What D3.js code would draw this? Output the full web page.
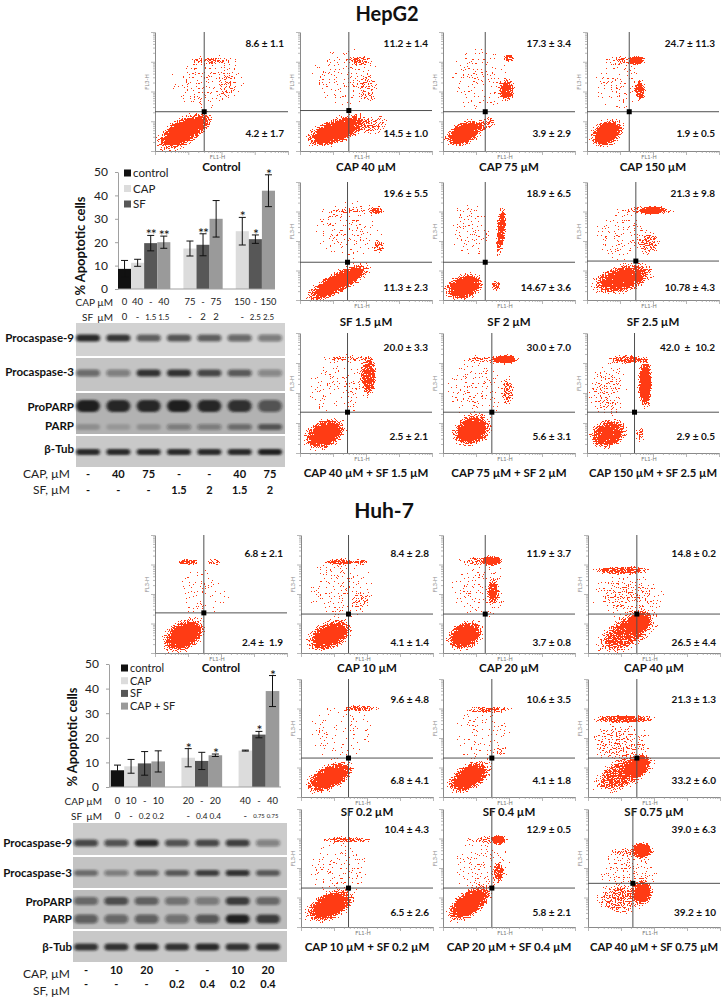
<!DOCTYPE html>
<html><head><meta charset="utf-8">
<script src="https://cdn.jsdelivr.net/npm/d3@7/dist/d3.min.js"></script>
<style>
body{margin:0;background:#fff}
svg{display:block}
text{font-family:Lato,"Open Sans",sans-serif;white-space:pre}
</style></head>
<body><svg id="c" width="721" height="997"></svg>
<script>
// ================= DATA =================
const barSeries = ["control", "CAP", "SF", "CAP + SF"];

// HepG2 bar chart (groups x series); null = no bar
const hepGroups = ["g40", "g75", "g150"];
const hepMeans  = [[8.6, 11.2, 19.6, 20.0], [null, 17.3, 18.9, 30.0], [null, 24.7, 21.3, 42.0]];
const hepErrors = [[3.6, 1.5, 3.3, 2.6], [null, 3.2, 4.7, 7.8], [null, 5.9, 1.8, 6.8]];
const hepStars  = [["", "", "**", "**"], ["", "", "**", ""], ["", "*", "*", "*"]];
const hepCapTicks = [["0", "40", "-", "40"], [null, "75", "-", "75"], [null, "150", "-", "150"]];
const hepSfTicks  = [["0", "-", "1.5", "1.5"], [null, "-", "2", "2"], [null, "-", "2.5", "2.5"]];
const hepLegend = ["control", "CAP", "SF"];

// Huh-7 bar chart
const huhGroups = ["g10", "g20", "g40"];
const huhMeans  = [[6.8, 8.4, 9.6, 10.4], [null, 11.9, 10.6, 12.9], [null, 14.8, 21.3, 39.0]];
const huhErrors = [[2.1, 2.8, 4.8, 4.3], [null, 3.7, 3.5, 0.5], [null, 0.2, 1.3, 6.3]];
const huhStars  = [["", "", "", ""], ["", "*", "", "*"], ["", "", "*", "*"]];
const huhCapTicks = [["0", "10", "-", "10"], [null, "20", "-", "20"], [null, "40", "-", "40"]];
const huhSfTicks  = [["0", "-", "0.2", "0.2"], [null, "-", "0.4", "0.4"], [null, "-", "0.75", "0.75"]];
const huhLegend = ["control", "CAP", "SF", "CAP + SF"];

const yTicks = [0, 10, 20, 30, 40, 50];

// Western blots: band intensities per lane (0..1)
const blotProteins = ["Procaspase-9", "Procaspase-3", "ProPARP", "PARP", "β-Tub"];
const hepLaneCap = ["-", "40", "75", "-", "-", "40", "75"];
const hepLaneSf  = ["-", "-", "-", "1.5", "2", "1.5", "2"];
const hepCasp9   = [0.9, 0.8, 0.6, 0.65, 0.6, 0.55, 0.45];
const hepCasp3   = [0.5, 0.4, 0.85, 0.85, 0.7, 0.6, 0.35];
const hepProParp = [0.95, 0.9, 0.9, 0.95, 0.9, 0.85, 0.6];
const hepParp    = [0.2, 0.15, 0.2, 0.35, 0.35, 0.45, 0.6];
const hepTub     = [0.9, 0.9, 0.9, 0.9, 0.9, 0.9, 0.95];

const huhLaneCap = ["-", "10", "20", "-", "-", "10", "20"];
const huhLaneSf  = ["-", "-", "-", "0.2", "0.4", "0.2", "0.4"];
const huhCasp9   = [0.7, 0.65, 0.9, 0.65, 0.7, 0.75, 0.4];
const huhCasp3   = [0.5, 0.4, 0.55, 0.6, 0.75, 0.85, 0.6];
const huhProParp = [0.5, 0.65, 0.55, 0.45, 0.4, 0.75, 0.5];
const huhParp    = [0.55, 0.5, 0.55, 0.45, 0.6, 0.95, 0.75];
const huhTub     = [0.8, 0.85, 0.9, 0.85, 0.9, 0.85, 0.85];

// Flow cytometry dot plots (Annexin V FL1-H vs PI FL3-H)
const hepFlowTitles = ["Control", "CAP 40 µM", "CAP 75 µM", "CAP 150 µM", "SF 1.5 µM", "SF 2 µM", "SF 2.5 µM",
  "CAP 40 µM + SF 1.5 µM", "CAP 75 µM + SF 2 µM", "CAP 150 µM + SF 2.5 µM"];
const hepFlowUpper = ["8.6 ± 1.1", "11.2 ± 1.4", "17.3 ± 3.4", "24.7 ± 11.3", "19.6 ± 5.5", "18.9 ± 6.5", "21.3 ± 9.8",
  "20.0 ± 3.3", "30.0 ± 7.0", "42.0  ±  10.2"];
const hepFlowLower = ["4.2 ± 1.7", "14.5 ± 1.0", "3.9 ± 2.9", "1.9 ± 0.5", "11.3 ± 2.3", "14.67 ± 3.6", "10.78 ± 4.3",
  "2.5 ± 2.1", "5.6 ± 3.1", "2.9 ± 0.5"];
// quadrant gate [FL1 %, FL3 %] of the plot frame
const hepGates = [[37, 33], [37, 34], [32, 33], [32, 33], [36, 32], [32, 32], [37, 33], [36, 34], [37, 34], [36, 34]];
// event populations: [centre x %, centre y %, radius x %, radius y %, tilt deg, density]
const hepClusters = [
  [[21, 16, 24, 13, 30, 1], [43, 76, 19, 3, 0, 0.45], [40, 58, 33, 28, 0, 0.16], [54, 55, 8, 16, 0, 0.22], [36, 25, 10, 8, 30, 0.5]],
  [[28, 17, 28, 12, 20, 1], [56, 22, 12, 8, 20, 0.45], [35, 62, 30, 28, 0, 0.18], [46, 76, 10, 4, 0, 0.45], [51, 52, 8, 15, 0, 0.3]],
  [[16, 15, 17, 11, 25, 1], [33, 23, 9, 6, 25, 0.55], [48, 51, 7, 11, 0, 0.8], [50, 78, 5, 3.5, 0, 0.7], [28, 60, 25, 32, 0, 0.16]],
  [[15, 15, 15, 12, 30, 1], [27, 76, 15, 4, 0, 0.4], [38, 76, 7, 4.5, 0, 1], [40, 51, 5, 10, 0, 0.8], [24, 56, 20, 25, 0, 0.18]],
  [[29, 15, 31, 10, 28, 1], [38, 60, 30, 30, 0, 0.17], [58, 76, 7, 4, 0, 0.7], [36, 76, 20, 2.5, 0, 0.3], [60, 45, 5, 7, 0, 0.5]],
  [[16, 11, 17, 12, 20, 1], [44, 59, 4, 23, -5, 0.85], [40, 12, 4, 5, 0, 0.7], [20, 60, 18, 28, 0, 0.16]],
  [[27, 18, 26, 13, 15, 0.95], [46, 76, 25, 4, 0, 0.45], [50, 76, 11, 4, 0, 1], [47, 48, 10, 10, 40, 0.45], [27, 55, 25, 25, 0, 0.18]],
  [[19, 16, 19, 13, 25, 1], [52, 64, 7, 19, 0, 0.8], [37, 79, 23, 3.5, 0, 0.4], [29, 55, 27, 27, 0, 0.17]],
  [[22, 19, 17, 14, 25, 1], [47, 78, 11, 4.5, 0, 1], [33, 78, 20, 4, 0, 0.4], [49, 52, 5, 14, 0, 0.5], [25, 52, 25, 30, 0, 0.18]],
  [[16, 16, 16, 13, 25, 0.95], [44, 58, 6, 24, 0, 1], [31, 78, 17, 4, 0, 0.7], [16, 52, 16, 25, 0, 0.28], [40, 16, 4, 8, 0, 0.4]]
];

const huhFlowTitles = ["Control", "CAP 10 µM", "CAP 20 µM", "CAP 40 µM", "SF 0.2 µM", "SF 0.4 µM", "SF 0.75 µM",
  "CAP 10 µM + SF 0.2 µM", "CAP 20 µM + SF 0.4 µM", "CAP 40 µM + SF 0.75 µM"];
const huhFlowUpper = ["6.8 ± 2.1", "8.4 ± 2.8", "11.9 ± 3.7", "14.8 ± 0.2", "9.6 ± 4.8", "10.6 ± 3.5", "21.3 ± 1.3",
  "10.4 ± 4.3", "12.9 ± 0.5", "39.0 ± 6.3"];
const huhFlowLower = ["2.4 ±  1.9", "4.1 ± 1.4", "3.7 ± 0.8", "26.5 ± 4.4", "6.8 ± 4.1", "4.1 ± 1.8", "33.2 ± 6.0",
  "6.5 ± 2.6", "5.8 ± 2.1", "39.2 ± 10"];
const huhGates = [[37, 34], [36, 33], [32, 33], [37, 33], [36, 33], [37, 33], [37, 33], [36, 33], [37, 33], [34, 37]];
const huhClusters = [
  [[22, 15, 20, 14, 30, 1], [25, 77, 10, 3, 0, 0.7], [45, 77, 6, 3, 0, 0.5], [35, 50, 25, 25, 0, 0.14]],
  [[22, 15, 20, 13, 25, 1], [30, 77, 14, 3, 0, 0.7], [46, 77, 6, 3, 0, 0.6], [30, 55, 30, 30, 0, 0.17], [45, 45, 8, 10, 0, 0.28]],
  [[17, 15, 16, 13, 25, 1], [37, 78, 9, 5, 0, 1], [25, 78, 15, 4, 0, 0.4], [38, 52, 5, 12, 0, 0.8], [28, 55, 25, 30, 0, 0.17]],
  [[30, 18, 28, 15, 30, 0.75], [38, 25, 12, 9, 40, 1], [25, 70, 25, 4, 0, 0.75], [30, 48, 30, 20, 0, 0.28]],
  [[22, 17, 22, 12, 25, 1], [45, 75, 18, 3, 0, 0.55], [30, 54, 28, 30, 0, 0.14]],
  [[20, 17, 20, 12, 30, 1], [35, 74, 19, 3, 0, 0.6], [30, 52, 25, 30, 0, 0.14], [44, 40, 5, 6, 0, 0.3]],
  [[27, 20, 27, 14, 25, 0.7], [38, 26, 12, 9, 35, 1], [27, 66, 27, 4, 0, 0.75], [25, 45, 25, 20, 0, 0.32]],
  [[22, 18, 22, 13, 25, 1], [35, 74, 21, 3, 0, 0.6], [30, 50, 28, 28, 0, 0.15]],
  [[20, 20, 22, 12, 35, 1], [42, 74, 6, 5, 0, 1], [35, 74, 18, 3.5, 0, 0.45], [42, 46, 5, 10, 0, 0.7], [30, 50, 25, 28, 0, 0.18]],
  [[41, 29, 9, 12, 0, 1], [24, 23, 20, 14, 0, 0.45], [41, 65, 9, 8, 0, 1], [31, 63, 18, 4, 0, 0.4], [30, 45, 25, 25, 0, 0.22]]
];

// ================= LAYOUT / STYLE =================
const barColors = ["#111111", "#dcdcdc", "#575757", "#9a9a9a"];
const dotColor = "#ff3b14";

const hepBoxes = [[155, 288, 32, 151], [300, 432, 32, 151], [443, 575, 32, 151], [587, 719, 32, 151],
  [300, 432, 182, 300], [443, 575, 182, 300], [587, 719, 182, 300],
  [300, 432, 333, 453], [443, 575, 333, 453], [587, 719, 333, 453]];
const hepRowOf = [0, 0, 0, 0, 1, 1, 1, 2, 2, 2];
const hepUpperY = [43, 193, 347], hepLowerY = [133, 287, 436], hepTitleY = [167, 322, 473];

const huhBoxes = [[155, 287, 535, 653], [301, 433, 535, 653], [443, 575, 535, 653], [588, 720, 535, 653],
  [301, 433, 679, 797], [443, 575, 679, 797], [588, 720, 679, 797],
  [301, 433, 809, 927], [443, 575, 809, 927], [588, 720, 809, 927]];
const huhRowOf = hepRowOf;
const huhUpperY = [553, 699, 829], huhLowerY = [642, 780, 912], huhTitleY = [668, 812, 947];

// ================= DRAWING =================
const svg = d3.select("#c");
const defs = svg.append("defs");

// speckle texture for the dot-plot event clouds
const f = defs.append("filter").attr("id", "speckle").attr("color-interpolation-filters", "sRGB")
  .attr("x", "-5%").attr("y", "-5%").attr("width", "110%").attr("height", "110%");
f.append("feTurbulence").attr("type", "fractalNoise").attr("baseFrequency", "0.73 0.79").attr("numOctaves", "3").attr("seed", "11").attr("result", "t");
f.append("feColorMatrix").attr("in", "t").attr("type", "matrix")
  .attr("values", "0 0 0 0 0  0 0 0 0 0  0 0 0 0 0  2.0 0 0 0 -0.5").attr("result", "n");
f.append("feComposite").attr("in", "SourceAlpha").attr("in2", "n").attr("operator", "arithmetic")
  .attr("k1", 0).attr("k2", 1.15).attr("k3", -1).attr("k4", 0.45).attr("result", "d");
f.append("feComponentTransfer").attr("in", "d").attr("result", "m")
  .append("feFuncA").attr("type", "discrete").attr("tableValues", "0 1");
f.append("feFlood").attr("flood-color", dotColor).attr("result", "c");
f.append("feComposite").attr("in", "c").attr("in2", "m").attr("operator", "in");

const rg = defs.append("radialGradient").attr("id", "blob");
rg.append("stop").attr("offset", "0").attr("stop-color", "#000").attr("stop-opacity", 1);
rg.append("stop").attr("offset", "0.55").attr("stop-color", "#000").attr("stop-opacity", 0.9);
rg.append("stop").attr("offset", "1").attr("stop-color", "#000").attr("stop-opacity", 0);

defs.append("filter").attr("id", "bandblur").attr("x", "-30%").attr("y", "-80%").attr("width", "160%").attr("height", "260%")
  .append("feGaussianBlur").attr("stdDeviation", "1.6 1.2");

function fitText(sel, maxW) {
  sel.each(function () {
    const w = this.getComputedTextLength();
    if (w > maxW) d3.select(this).attr("textLength", maxW).attr("lengthAdjust", "spacingAndGlyphs");
  });
}
function fitFont(sel, maxW, fs) {
  sel.each(function () {
    const w = this.getComputedTextLength();
    if (w > maxW) d3.select(this).attr("font-size", (fs * maxW / w).toFixed(2));
  });
}

function drawFlow(id, box, title, upper, lower, gate, clusters, upY, loY, tY) {
  const [l, r, t, b] = box;
  const x = d3.scaleLinear([0, 100], [l, r]);
  const y = d3.scaleLinear([0, 100], [b, t]);
  defs.append("clipPath").attr("id", "clip" + id).append("rect")
    .attr("x", l).attr("y", t).attr("width", r - l).attr("height", b - t);
  const g = svg.append("g");
  const dots = g.append("g").attr("clip-path", `url(#clip${id})`).append("g").attr("filter", "url(#speckle)");
  dots.selectAll("ellipse").data(clusters).join("ellipse")
    .attr("cx", 0).attr("cy", 0)
    .attr("rx", d => x(d[2]) - x(0)).attr("ry", d => y(0) - y(d[3]))
    .attr("transform", d => `translate(${x(d[0])},${y(d[1])}) rotate(${-d[4]})`)
    .attr("fill", "url(#blob)").attr("opacity", d => d[5]);

  // log axes
  const lx = d3.scaleLog([1, 1e4], [l, r]);
  const ly = d3.scaleLog([1, 1e4], [b, t]);
  const ax = g.append("g").attr("transform", `translate(0,${b})`)
    .call(d3.axisBottom(lx).tickSize(2).tickSizeOuter(0).tickFormat(""));
  const ay = g.append("g").attr("transform", `translate(${l},0)`)
    .call(d3.axisLeft(ly).tickSize(2).tickSizeOuter(0).tickFormat(""));
  [ax, ay].forEach(a => {
    a.select(".domain").attr("stroke", "#8a8a8a");
    a.selectAll(".tick line").attr("stroke", "#9a9a9a").attr("stroke-width", 0.7);
  });
  ax.selectAll(".tick line").filter(v => Math.log10(v) % 1 === 0).attr("y2", 4);
  ay.selectAll(".tick line").filter(v => Math.log10(v) % 1 === 0).attr("x2", -4);

  // quadrant gates
  g.append("line").attr("x1", x(gate[0])).attr("x2", x(gate[0])).attr("y1", t).attr("y2", b)
    .attr("stroke", "#505050").attr("stroke-width", 1);
  g.append("line").attr("x1", l).attr("x2", r).attr("y1", y(gate[1])).attr("y2", y(gate[1]))
    .attr("stroke", "#505050").attr("stroke-width", 1);
  g.append("rect").attr("x", x(gate[0]) - 2.5).attr("y", y(gate[1]) - 2.5).attr("width", 5).attr("height", 5).attr("fill", "#000");

  g.append("text").attr("x", x(47)).attr("y", b + 6).attr("dy", "0.35em").attr("text-anchor", "middle")
    .attr("font-size", 5.5).attr("fill", "#777").attr("font-family", "DejaVu Sans Mono").text("FL1-H");
  g.append("text").attr("transform", `translate(${l - 6},${y(58)}) rotate(-90)`).attr("text-anchor", "middle")
    .attr("font-size", 5.5).attr("fill", "#888").attr("font-family", "DejaVu Sans Mono").text("FL3-H");

  g.append("text").attr("x", r - 4).attr("y", upY).attr("dy", "0.35em").attr("text-anchor", "end")
    .attr("font-size", 10).attr("font-weight", "bold").attr("fill", "#111").text(upper);
  g.append("text").attr("x", r - 4).attr("y", loY).attr("dy", "0.35em").attr("text-anchor", "end")
    .attr("font-size", 10).attr("font-weight", "bold").attr("fill", "#111").text(lower);
  g.append("text").attr("x", (l + r) / 2).attr("y", tY).attr("dy", "0.35em").attr("text-anchor", "middle")
    .attr("font-size", 11.5).attr("font-weight", "bold").attr("fill", "#111").text(title)
    .call(fitText, 128);
}

hepBoxes.forEach((bx, i) => {
  const row = hepRowOf[i];
  drawFlow("h" + i, bx, hepFlowTitles[i], hepFlowUpper[i], hepFlowLower[i], hepGates[i], hepClusters[i],
    hepUpperY[row], hepLowerY[row], hepTitleY[row]);
});
huhBoxes.forEach((bx, i) => {
  const row = huhRowOf[i];
  drawFlow("u" + i, bx, huhFlowTitles[i], huhFlowUpper[i], huhFlowLower[i], huhGates[i], huhClusters[i],
    huhUpperY[row], huhLowerY[row], huhTitleY[row]);
});

function drawBars(c) {
  const g = svg.append("g");
  const y = d3.scaleLinear([0, 50], [c.y0, c.y50]);
  const gx = d3.scaleBand(c.groups, [c.xl, c.xr]).paddingInner(c.pi).paddingOuter(c.po);
  const sx = d3.scaleBand(d3.range(4), [0, gx.bandwidth()]);
  const rows = [];
  c.groups.forEach((gr, gi) => c.means[gi].forEach((m, si) => {
    if (m == null) return;
    rows.push({gr, si, m, e: c.errors[gi][si], star: c.stars[gi][si], cap: c.capTicks[gi][si], sf: c.sfTicks[gi][si]});
  }));
  const bx = d => gx(d.gr) + sx(d.si);
  const bw = sx.bandwidth();

  const ya = g.append("g").attr("transform", `translate(${c.xl},0)`)
    .call(d3.axisLeft(y).tickValues(yTicks).tickSize(3).tickSizeOuter(0).tickPadding(7));
  ya.select(".domain").attr("stroke", "#a0a0a0");
  ya.selectAll(".tick line").attr("stroke", "#a0a0a0");
  ya.selectAll(".tick text").attr("font-family", "Lato").attr("font-size", 12).attr("fill", "#222");

  g.selectAll("rect.bar").data(rows).join("rect").attr("class", "bar")
    .attr("x", bx).attr("width", bw).attr("y", d => y(d.m)).attr("height", d => y(0) - y(d.m))
    .attr("fill", d => barColors[d.si]);
  g.append("line").attr("x1", c.xl).attr("x2", c.xr).attr("y1", y(0)).attr("y2", y(0)).attr("stroke", "#a0a0a0");

  const eb = g.selectAll("g.err").data(rows).join("g").attr("class", "err").attr("stroke", "#111").attr("stroke-width", 1);
  eb.append("line").attr("x1", d => bx(d) + bw / 2).attr("x2", d => bx(d) + bw / 2)
    .attr("y1", d => y(d.m + d.e)).attr("y2", d => y(d.m - d.e));
  eb.append("line").attr("x1", d => bx(d) + bw / 2 - 3.5).attr("x2", d => bx(d) + bw / 2 + 3.5)
    .attr("y1", d => y(d.m + d.e)).attr("y2", d => y(d.m + d.e));
  eb.append("line").attr("x1", d => bx(d) + bw / 2 - 3.5).attr("x2", d => bx(d) + bw / 2 + 3.5)
    .attr("y1", d => y(d.m - d.e)).attr("y2", d => y(d.m - d.e));

  g.selectAll("text.star").data(rows.filter(d => d.star)).join("text").attr("class", "star")
    .attr("x", d => bx(d) + bw / 2).attr("y", d => y(d.m + d.e) + 4).attr("text-anchor", "middle")
    .attr("font-size", 14).attr("fill", "#111").attr("letter-spacing", "-1").text(d => d.star);

  g.selectAll("text.cap").data(rows).join("text").attr("class", "cap")
    .attr("x", d => bx(d) + bw / 2).attr("y", c.capY).attr("dy", "0.35em").attr("text-anchor", "middle")
    .attr("font-size", 9.5).attr("fill", "#222").text(d => d.cap).call(fitFont, bw + 3, 9.5);
  g.selectAll("text.sf").data(rows).join("text").attr("class", "sf")
    .attr("x", d => bx(d) + bw / 2).attr("y", c.sfY).attr("dy", "0.35em").attr("text-anchor", "middle")
    .attr("font-size", 9.5).attr("fill", "#222").text(d => d.sf).call(fitFont, bw - 2, 9.5);
  g.append("text").attr("x", c.lblR).attr("y", c.capY).attr("dy", "0.35em").attr("text-anchor", "end")
    .attr("font-size", 10).attr("fill", "#222").text("CAP µM");
  g.append("text").attr("x", c.lblR - 31).attr("y", c.sfY).attr("dy", "0.35em")
    .attr("font-size", 10).attr("fill", "#222").text("SF");
  g.append("text").attr("x", c.lblR).attr("y", c.sfY).attr("dy", "0.35em").attr("text-anchor", "end")
    .attr("font-size", 10).attr("fill", "#222").text("µM");

  g.append("text").attr("transform", `translate(${c.titleX},${c.titleY}) rotate(-90)`).attr("text-anchor", "middle")
    .attr("dy", "0.35em").attr("font-size", 13.5).attr("font-weight", "bold").attr("fill", "#111")
    .attr("textLength", 99).attr("lengthAdjust", "spacingAndGlyphs").text("% Apoptotic cells");

  const lg = g.selectAll("g.leg").data(c.legend).join("g").attr("class", "leg")
    .attr("transform", (d, i) => `translate(${c.legX},${c.legY + i * c.legStep})`);
  lg.append("rect").attr("x", 0).attr("y", -3.5).attr("width", 7).attr("height", 7).attr("fill", (d, i) => barColors[i]);
  lg.append("text").attr("x", 9).attr("dy", "0.35em").attr("font-size", c.legFont).attr("fill", "#222").text(d => d);
}

drawBars({groups: hepGroups, means: hepMeans, errors: hepErrors, stars: hepStars, capTicks: hepCapTicks, sfTicks: hepSfTicks,
  legend: hepLegend, y0: 289, y50: 172, xl: 118, xr: 275, pi: 0, po: 0, capY: 302, sfY: 317, lblR: 113,
  titleX: 80, titleY: 246, legX: 124, legY: 173, legStep: 15.5, legFont: 11.5});
drawBars({groups: huhGroups, means: huhMeans, errors: huhErrors, stars: huhStars, capTicks: huhCapTicks, sfTicks: huhSfTicks,
  legend: huhLegend, y0: 787, y50: 664, xl: 109, xr: 281, pi: 0.05, po: 0.03, capY: 801, sfY: 816, lblR: 102,
  titleX: 72, titleY: 737, legX: 121, legY: 668, legStep: 12.7, legFont: 11});

function drawBlot(c) {
  const g = svg.append("g");
  const lane = d3.scalePoint(d3.range(c.cap.length), [c.lane0, c.lane1]);
  c.panels.forEach(p => g.append("rect").attr("x", c.x0).attr("y", p[0]).attr("width", c.x1 - c.x0)
    .attr("height", p[1] - p[0]).attr("fill", p[2]));
  c.bands.forEach((vals, bi) => {
    const [cy, h] = c.bandGeom[bi];
    g.append("g").attr("filter", "url(#bandblur)").selectAll("rect").data(vals).join("rect")
      .attr("x", (d, i) => lane(i) - 12).attr("width", 24).attr("y", cy - h / 2).attr("height", h)
      .attr("rx", h / 2).attr("fill", "#141414").attr("opacity", d => d);
  });
  blotProteins.forEach((name, i) => g.append("text").attr("x", c.labelR).attr("y", c.labelY[i]).attr("dy", "0.35em")
    .attr("text-anchor", "end").attr("font-size", 11.5).attr("font-weight", "bold").attr("fill", "#111").text(name));
  g.append("text").attr("x", 70).attr("y", c.rowY[0]).attr("dy", "0.35em").attr("text-anchor", "end")
    .attr("font-size", 12).attr("fill", "#222").text("CAP, µM");
  g.append("text").attr("x", 70).attr("y", c.rowY[1]).attr("dy", "0.35em").attr("text-anchor", "end")
    .attr("font-size", 12).attr("fill", "#222").text("SF, µM");
  g.selectAll("text.lc").data(c.cap).join("text").attr("class", "lc").attr("x", (d, i) => lane(i)).attr("y", c.valY[0])
    .attr("dy", "0.35em").attr("text-anchor", "middle").attr("font-size", 11).attr("font-weight", "bold").attr("fill", "#111").text(d => d);
  g.selectAll("text.ls").data(c.sf).join("text").attr("class", "ls").attr("x", (d, i) => lane(i)).attr("y", c.valY[1])
    .attr("dy", "0.35em").attr("text-anchor", "middle").attr("font-size", 11).attr("font-weight", "bold").attr("fill", "#111").text(d => d);
}

drawBlot({cap: hepLaneCap, sf: hepLaneSf, bands: [hepCasp9, hepCasp3, hepProParp, hepParp, hepTub],
  bandGeom: [[338, 7], [373, 7], [406, 12], [427, 6], [452, 6]],
  panels: [[323, 356, "#d2d2d2"], [358, 391, "#c4c4c4"], [393, 434, "#b2b2b2"], [436, 467, "#c9c9c9"]],
  x0: 76, x1: 285, lane0: 88, lane1: 270, labelR: 74, labelY: [338, 372, 407, 426, 449],
  rowY: [474, 490], valY: [474, 490]});
drawBlot({cap: huhLaneCap, sf: huhLaneSf, bands: [huhCasp9, huhCasp3, huhProParp, huhParp, huhTub],
  bandGeom: [[843, 7], [873, 6], [901, 8], [919, 9], [947, 7]],
  panels: [[823, 855, "#cbcbcb"], [857, 888, "#c3c3c3"], [890, 929, "#bcbcbc"], [931, 962, "#c8c8c8"]],
  x0: 73, x1: 287, lane0: 86, lane1: 268, labelR: 72, labelY: [843, 873, 902, 919, 947],
  rowY: [974, 991], valY: [970, 984]});

// panel titles
svg.append("text").attr("x", 387).attr("y", 21).attr("text-anchor", "middle").attr("font-size", 20)
  .attr("font-weight", "bold").attr("fill", "#111").text("HepG2");
svg.append("text").attr("x", 384).attr("y", 518).attr("text-anchor", "middle").attr("font-size", 21)
  .attr("font-weight", "bold").attr("fill", "#111").text("Huh-7");
</script></body></html>
